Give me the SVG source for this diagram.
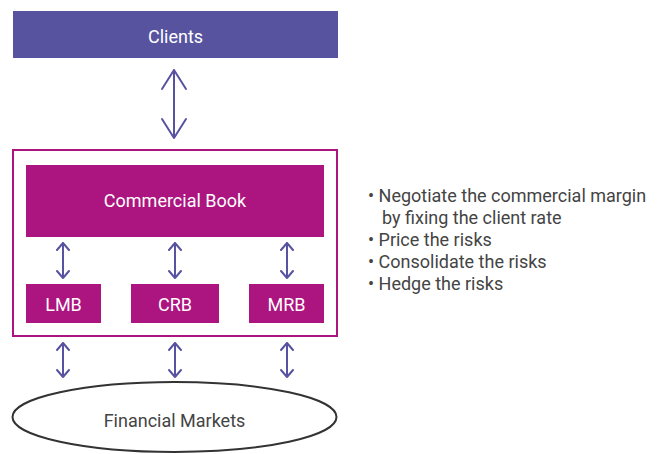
<svg xmlns="http://www.w3.org/2000/svg" width="662" height="454" viewBox="0 0 662 454">
<style>
.box{fill:#ac1480}
.lbl{font-family:Roboto,"Liberation Sans",sans-serif;font-size:18px;fill:#ffffff;text-anchor:middle}
.conn{fill:none;stroke:#5753a0;stroke-width:2;stroke-linecap:round;stroke-linejoin:round}
.bul{font-family:Roboto,"Liberation Sans",sans-serif;font-size:18px;fill:#444444}
</style>
<rect width="662" height="454" fill="#ffffff"/>
<g id="clients">
<rect x="13" y="11" width="325" height="47" fill="#57539f"/>
<text class="lbl" x="175.5" y="43">Clients</text>
</g>
<g id="frame">
<rect x="13" y="150" width="324" height="186" fill="none" stroke="#ac1480" stroke-width="2"/>
</g>
<g id="commercial-book">
<rect class="box" x="26" y="165" width="298" height="72"/>
<text class="lbl" x="175" y="207">Commercial Book</text>
</g>
<g id="lmb">
<rect class="box" x="26" y="284" width="75" height="39"/>
<text class="lbl" x="63.5" y="311">LMB</text>
</g>
<g id="crb">
<rect class="box" x="131" y="284" width="88" height="39"/>
<text class="lbl" x="175" y="311">CRB</text>
</g>
<g id="mrb">
<rect class="box" x="249" y="284" width="75" height="39"/>
<text class="lbl" x="286.5" y="311">MRB</text>
</g>
<g id="financial-markets">
<ellipse cx="174.5" cy="417" rx="162" ry="35" fill="#ffffff" stroke="#333333" stroke-width="2"/>
<text x="174.5" y="427" font-family="Roboto,'Liberation Sans',sans-serif" font-size="18" fill="#444444" text-anchor="middle">Financial Markets</text>
</g>
<g id="connectors">
<path class="conn" d="M174 70V138M162 89L174 70L186 89M162 119L174 138L186 119"/>
<path class="conn" d="M63 243V278M57 250L63 243L69 250M57 271L63 278L69 271"/>
<path class="conn" d="M175 243V278M169 250L175 243L181 250M169 271L175 278L181 271"/>
<path class="conn" d="M287 243V278M281 250L287 243L293 250M281 271L287 278L293 271"/>
<path class="conn" d="M63 343V377M57 350L63 343L69 350M57 370L63 377L69 370"/>
<path class="conn" d="M175 343V377M169 350L175 343L181 350M169 370L175 377L181 370"/>
<path class="conn" d="M287 343V377M281 350L287 343L293 350M281 370L287 377L293 370"/>
</g>
<g id="bullets">
<text class="bul" x="368" y="202">• Negotiate the commercial margin</text>
<text class="bul" x="382" y="224">by fixing the client rate</text>
<text class="bul" x="368" y="246">• Price the risks</text>
<text class="bul" x="368" y="268">• Consolidate the risks</text>
<text class="bul" x="368" y="290">• Hedge the risks</text>
</g>
</svg>
